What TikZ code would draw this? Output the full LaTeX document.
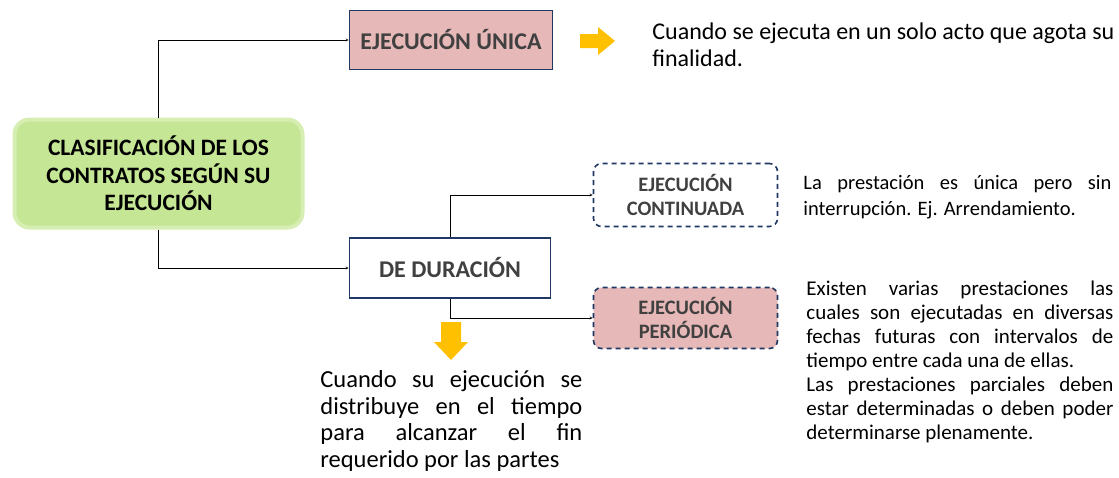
\documentclass[tikz,border=0pt]{standalone}
\usepackage{fontspec}
\setmainfont{Carlito}
\usetikzlibrary{positioning}
\hyphenpenalty=10000
\exhyphenpenalty=10000
\definecolor{verde}{RGB}{197,230,148}
\definecolor{verdeborde}{RGB}{214,238,178}
\definecolor{rosa}{RGB}{230,184,183}
\definecolor{azul}{RGB}{31,56,100}
\definecolor{naranja}{RGB}{255,192,0}
\definecolor{gris}{RGB}{64,64,64}
\begin{document}
\begin{tikzpicture}[x=1pt, y=-1pt, thick,
    caja/.style = {draw=azul, line width=1.6pt, inner sep=0pt, text=gris, font=\bfseries},
    punteada/.style = {caja, dashed, dash pattern=on 5pt off 4pt, rounded corners=8pt, align=center, font=\fontsize{20.5}{24}\selectfont\bfseries},
    texto/.style = {inner sep=0pt, anchor=north west, align=justify},
    flecha/.style = {fill=naranja},
    conector/.style = {->, >=stealth, thin, black}]
    \useasboundingbox (0,0) rectangle (1119,477);

    % Nodo principal
    \node[draw=verdeborde, line width=4pt, fill=verde, rounded corners=15pt,
          minimum width=288pt, minimum height=108pt, align=center,
          font=\fontsize{23.5}{27.5}\selectfont\bfseries] (main) at (158.5,173.5)
          {CLASIFICACIÓN DE LOS\\CONTRATOS SEGÚN SU\\EJECUCIÓN};

    % Cajas
    \node[caja, fill=rosa, minimum width=203pt, minimum height=59pt,
          font=\fontsize{24}{28}\selectfont\bfseries] (unica) at (451,40) {EJECUCIÓN ÚNICA};
    \node[caja, fill=white, minimum width=201pt, minimum height=60pt,
          font=\fontsize{24}{28}\selectfont\bfseries] (duracion) at (450,268) {DE DURACIÓN};
    \node[punteada, fill=white, minimum width=184pt, minimum height=63pt] (continuada) at (685.5,195) {EJECUCIÓN\\CONTINUADA};
    \node[punteada, fill=rosa, minimum width=184pt, minimum height=61pt] (periodica) at (685.5,318) {EJECUCIÓN\\PERIÓDICA};

    % Conectores
    \draw[conector] (main.north) |- (unica.west);
    \draw[conector] (main.south) |- (duracion.west);
    \draw[conector] (duracion.north) |- (continuada.west);
    \draw[conector] (duracion.south) |- (periodica.west);

    % Flechas naranjas
    \fill[flecha] (580,34) -- (598,34) -- (598,27) -- (615,41) -- (598,55) -- (598,48) -- (580,48) -- cycle;
    \fill[flecha] (441,322) -- (461,322) -- (461,342) -- (468,342) -- (451,360) -- (434,342) -- (441,342) -- cycle;

    % Textos
    \node[texto, text width=462pt, font=\fontsize{24}{27}\selectfont] (t1) at (652,22)
        {Cuando se ejecuta en un solo acto que agota su finalidad.};
    \node[texto, text width=308pt, font=\fontsize{20.5}{26}\selectfont] (t2) at (803,175)
        {La prestación es única pero sin interrupción. Ej. Arrendamiento.};
    \node[texto, text width=307pt, font=\fontsize{21}{24}\selectfont] (t3) at (806,281)
        {\spaceskip=0.226em plus 0.5em\relax
         Existen varias prestaciones las cuales son ejecutadas en diversas fechas futuras con intervalos de tiempo entre cada una de ellas.\par
         Las prestaciones parciales deben estar determinadas o deben poder determinarse plenamente.};
    \node[texto, text width=262pt, font=\fontsize{24.5}{26.7}\selectfont] (t4) at (320,370)
        {Cuando su ejecución se distribuye en el tiempo para alcanzar el fin requerido por las partes};
\end{tikzpicture}
\end{document}
